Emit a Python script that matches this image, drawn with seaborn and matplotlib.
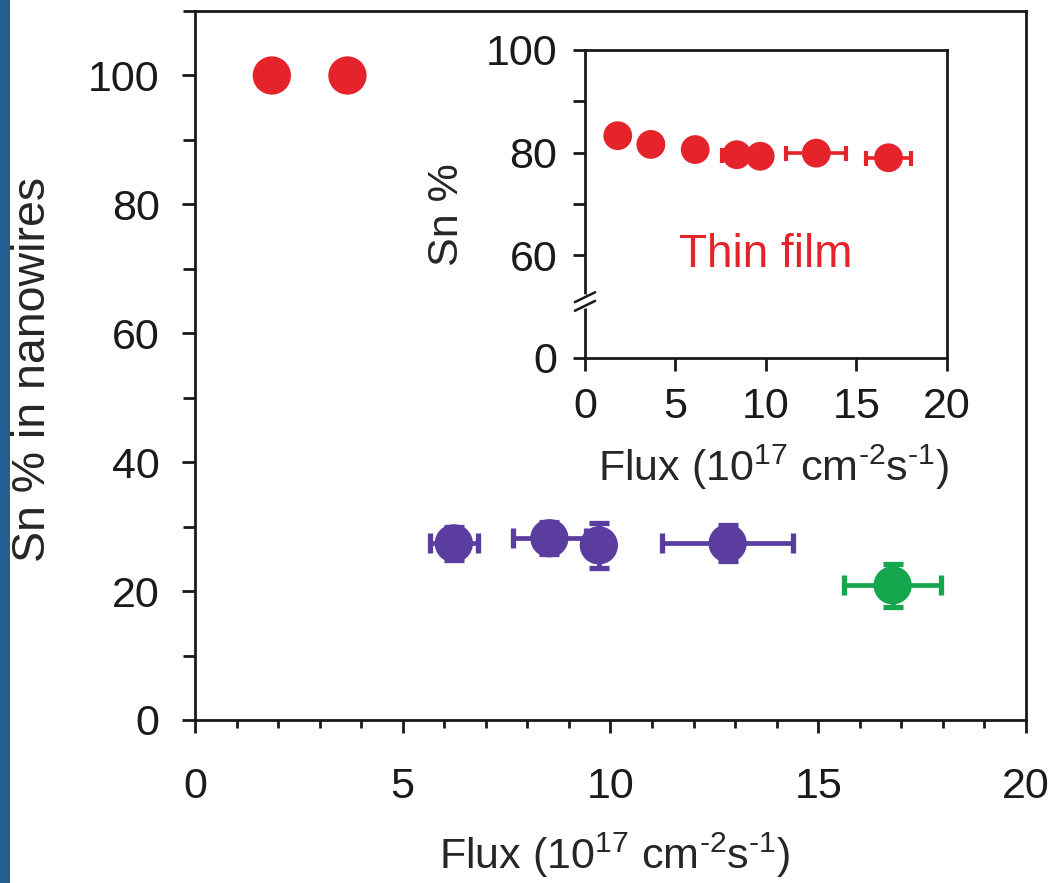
import numpy as np
import pandas as pd
import matplotlib
matplotlib.use("Agg")
import matplotlib.pyplot as plt
from matplotlib.ticker import MultipleLocator, FixedLocator
from matplotlib.patches import Rectangle
import seaborn as sns

# ---------------- data ----------------
# main plot: Sn % in nanowires vs flux
nw_red_x = [1.85, 3.67]
nw_red_y = [100.0, 100.0]

nw_purple_x = [6.23, 8.53, 9.72, 12.82]
nw_purple_y = [27.4, 28.2, 27.1, 27.4]
nw_purple_xerr = [0.57, 0.88, 0.0, 1.58]
nw_purple_yerr = [2.5, 2.5, 3.5, 2.8]

nw_green_x = [16.79]
nw_green_y = [20.9]
nw_green_xerr = [1.17]
nw_green_yerr = [3.3]

# inset: thin film
tf_x = [1.81, 3.64, 6.09, 8.39, 9.68, 12.78, 16.77]
tf_y = [83.3, 81.6, 80.6, 79.6, 79.3, 79.9, 79.0]
tf_xerr = [0.0, 0.0, 0.0, 0.83, 0.0, 1.66, 1.22]

main_xticks = [0, 5, 10, 15, 20]
main_yticks = [0, 20, 40, 60, 80, 100]
inset_xticks = [0, 5, 10, 15, 20]
inset_yticks = [40, 60, 80, 100]
inset_yticklabels = ["0", "60", "80", "100"]

RED = "#e5232a"
PURPLE = "#5b3c9f"
GREEN = "#16a64e"

# ---------------- style ----------------
sns.set_theme(style="ticks")
plt.rcParams["font.family"] = ["Liberation Sans", "DejaVu Sans"]
plt.rcParams["mathtext.fontset"] = "custom"
plt.rcParams["mathtext.rm"] = "Liberation Sans"
plt.rcParams["mathtext.it"] = "Liberation Sans:italic"
plt.rcParams["mathtext.bf"] = "Liberation Sans:bold"
plt.rcParams["axes.edgecolor"] = "#1a1a1a"
plt.rcParams["text.color"] = "#1a1a1a"
plt.rcParams["xtick.color"] = "#1a1a1a"
plt.rcParams["ytick.color"] = "#1a1a1a"

fig = plt.figure(figsize=(10.51, 8.83), dpi=100)
fig.add_artist(Rectangle((0, 0), 10 / 1051, 1, transform=fig.transFigure,
                         facecolor="#235d92", edgecolor="none"))

flux_label = r"Flux (10$^{17}$ cm$^{\text{-}2}$s$^{\text{-}1}$)"

# ---------------- main axes ----------------
ax = fig.add_axes([0.1855, 0.1846, 0.7907, 0.8029])

ekw = dict(fmt="none", elinewidth=3.4, capsize=7, capthick=3.8, zorder=2)
ax.errorbar(nw_purple_x, nw_purple_y, xerr=nw_purple_xerr, yerr=nw_purple_yerr,
            ecolor=PURPLE, **ekw)
ax.errorbar(nw_green_x, nw_green_y, xerr=nw_green_xerr, yerr=nw_green_yerr,
            ecolor=GREEN, **ekw)

S_MAIN = 760
sns.scatterplot(x=nw_red_x, y=nw_red_y, color=RED, s=S_MAIN, linewidth=0,
                edgecolor="none", ax=ax, zorder=3)
sns.scatterplot(x=nw_purple_x, y=nw_purple_y, color=PURPLE, s=S_MAIN, linewidth=0,
                edgecolor="none", ax=ax, zorder=3)
sns.scatterplot(x=nw_green_x, y=nw_green_y, color=GREEN, s=S_MAIN, linewidth=0,
                edgecolor="none", ax=ax, zorder=3)

ax.set_xlim(0, 20)
ax.set_ylim(0, 110)
ax.set_xticks(main_xticks)
ax.xaxis.set_minor_locator(MultipleLocator(1))
ax.set_yticks(main_yticks)
ax.yaxis.set_minor_locator(FixedLocator([10, 30, 50, 70, 90, 110]))
for s in ax.spines.values():
    s.set_linewidth(2.0)
    s.set_visible(True)
ax.tick_params(axis="both", which="both", direction="out", width=2.0,
               top=False, right=False, labelsize=31)
ax.tick_params(axis="x", which="major", length=9.5, pad=24)
ax.tick_params(axis="x", which="minor", length=6)
ax.tick_params(axis="y", which="major", length=9.5, pad=16)
ax.tick_params(axis="y", which="minor", length=8.5)

ax.set_xlabel(flux_label, fontsize=31)
ax.xaxis.set_label_coords(0.505, -0.191)
ax.xaxis.label.set_va("center")
ax.set_ylabel("Sn % in nanowires", fontsize=33.5)
ax.yaxis.set_label_coords(-0.195, 0.494)
ax.yaxis.label.set_va("center")
ax.grid(False)

# ---------------- inset ----------------
axi = fig.add_axes([0.5566, 0.5946, 0.3444, 0.3488])
axi.set_facecolor("white")
axi.errorbar(tf_x, tf_y, xerr=tf_xerr, fmt="none", ecolor=RED, elinewidth=2.6,
             capsize=5.4, capthick=3.0, zorder=2)
sns.scatterplot(x=tf_x, y=tf_y, color=RED, s=430, linewidth=0, edgecolor="none",
                ax=axi, zorder=3)
axi.set_xlim(0, 20)
axi.set_ylim(40, 100)
axi.set_xticks(inset_xticks)
axi.set_yticks(inset_yticks)
axi.set_yticklabels(inset_yticklabels)
axi.yaxis.set_minor_locator(FixedLocator([70, 90]))
for s in axi.spines.values():
    s.set_linewidth(2.0)
    s.set_visible(True)
axi.tick_params(axis="both", which="both", direction="out", width=2.0,
                top=False, right=False, labelsize=31, length=9)
axi.tick_params(axis="x", which="major", pad=12)
axi.tick_params(axis="y", which="major", pad=11)
axi.set_xlabel(flux_label, fontsize=31)
axi.xaxis.set_label_coords(0.522, -0.354)
axi.xaxis.label.set_va("center")
axi.set_ylabel("Sn %", fontsize=31)
axi.yaxis.set_label_coords(-0.381, 0.464)
axi.yaxis.label.set_va("center")
axi.text(10, 57.7, "Thin film", color=RED, fontsize=33, ha="center", va="baseline")
axi.grid(False)

# axis break marks on the inset y-axis
yb = (51 - 40) / 60.0
axi.plot([0, 0], [yb - 0.014, yb + 0.014], color="white", lw=4,
         transform=axi.transAxes, clip_on=False, zorder=5)
for d in (-0.014, 0.014):
    axi.plot([-0.028, 0.028], [yb + d - 0.016, yb + d + 0.016], color="#1a1a1a",
             lw=1.8, transform=axi.transAxes, clip_on=False, zorder=6)

fig.savefig("out.png", dpi=100)
